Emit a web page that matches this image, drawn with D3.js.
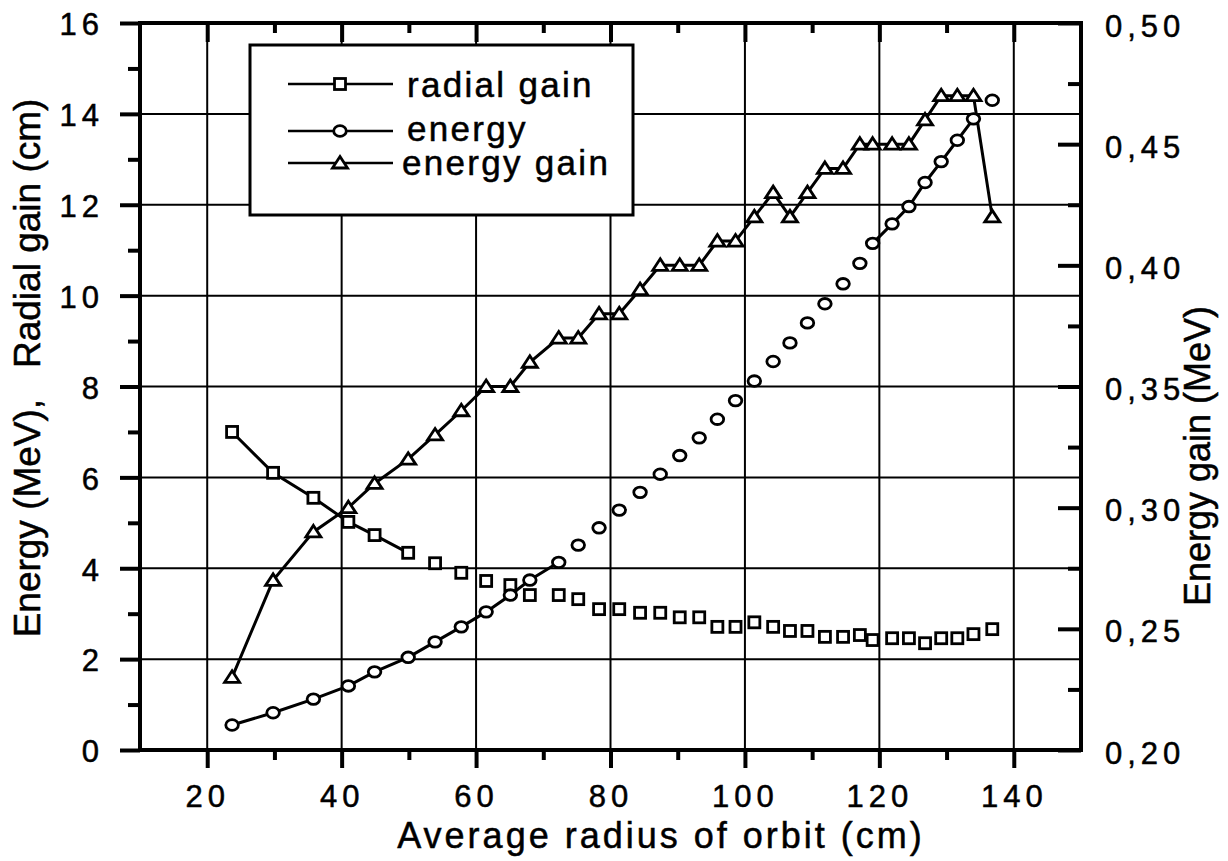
<!DOCTYPE html>
<html><head><meta charset="utf-8">
<script src="https://cdn.jsdelivr.net/npm/d3@7"></script>
<style>
html,body{margin:0;padding:0;background:#fff;}
svg{display:block;font-family:"Liberation Sans",Arial,Helvetica,sans-serif;}
svg text{stroke:#000;stroke-width:0.5px;}
</style></head>
<body>
<svg id="chart" width="1228" height="861"></svg>
<script>
// ---- data ----
const radius = [23.7, 29.8, 35.8, 41.0, 44.9, 49.9, 53.9, 57.8, 61.5, 65.1, 68.0, 72.3, 75.2, 78.3, 81.3, 84.4, 87.4, 90.3, 93.2, 95.9, 98.6, 101.4, 104.2, 106.7, 109.3, 111.9, 114.6, 117.1, 119.0, 121.9, 124.4, 126.8, 129.2, 131.6, 134.0, 136.8];
const radialGain = [7.0, 6.1, 5.55, 5.02, 4.73, 4.34, 4.11, 3.90, 3.72, 3.63, 3.41, 3.41, 3.32, 3.10, 3.10, 3.02, 3.02, 2.92, 2.92, 2.71, 2.71, 2.81, 2.71, 2.62, 2.62, 2.49, 2.49, 2.53, 2.42, 2.46, 2.46, 2.35, 2.46, 2.46, 2.55, 2.66];
const energy = [0.55, 0.82, 1.12, 1.41, 1.72, 2.04, 2.38, 2.71, 3.04, 3.41, 3.74, 4.13, 4.51, 4.89, 5.28, 5.67, 6.07, 6.48, 6.87, 7.28, 7.69, 8.12, 8.55, 8.96, 9.40, 9.82, 10.26, 10.71, 11.15, 11.58, 11.96, 12.49, 12.95, 13.42, 13.89, 14.30];
const energyGain = [0.23, 0.27, 0.29, 0.30, 0.31, 0.32, 0.33, 0.34, 0.35, 0.35, 0.36, 0.37, 0.37, 0.38, 0.38, 0.39, 0.40, 0.40, 0.40, 0.41, 0.41, 0.42, 0.43, 0.42, 0.43, 0.44, 0.44, 0.45, 0.45, 0.45, 0.45, 0.46, 0.47, 0.47, 0.47, 0.42];
// index ranges joined by visible line segments in the scanned figure
const radialGainLinked = [[0, 5]];
const energyLinked = [[0, 11], [28, 34]];
const energyGainLinked = [[0, 35]];
const xTicks = [20, 40, 60, 80, 100, 120, 140];
const xMinor = [30, 50, 70, 90, 110, 130];
const yTicks = [0, 2, 4, 6, 8, 10, 12, 14, 16];
const yMinor = [1, 3, 5, 7, 9, 11, 13, 15];
const y2Ticks = [0.20, 0.25, 0.30, 0.35, 0.40, 0.45, 0.50];
const y2Minor = [0.225, 0.275, 0.325, 0.375, 0.425, 0.475];
const legendLabels = ["radial gain", "energy", "energy gain"];
const xTitle = "Average radius of orbit (cm)";
const yTitle = "Energy (MeV),\u00a0\u00a0 Radial gain (cm)";
const y2Title = "Energy gain (MeV)";

// ---- layout ----
const L = 140, R = 1081, T = 23, B = 750;
const svg = d3.select("#chart");
const x = d3.scaleLinear().domain([10, 150]).range([L, R]);
const y = d3.scaleLinear().domain([0, 16]).range([B, T]);
const y2 = d3.scaleLinear().domain([0.2, 0.5]).range([B, T]);

// grid
const grid = svg.append("g").attr("stroke", "#000").attr("stroke-width", 2);
grid.selectAll(".vg").data(xTicks).join("line")
  .attr("x1", d => x(d)).attr("x2", d => x(d)).attr("y1", T).attr("y2", B);
grid.selectAll(".hg").data(yTicks.filter(d => d > 0 && d < 16)).join("line")
  .attr("x1", L).attr("x2", R).attr("y1", d => y(d)).attr("y2", d => y(d));

// axes with d3 axis generators
const tickFont = g => g.selectAll("text").attr("font-size", 31).attr("letter-spacing", "5px")
  .attr("fill", "#000").attr("font-family", "'Liberation Sans',Arial,sans-serif");
const styleAxis = g => { g.select(".domain").remove(); g.selectAll("line").attr("stroke", "#000").attr("stroke-width", 4); };

// bottom
const gB = svg.append("g").attr("transform", `translate(0,${B})`)
  .call(d3.axisBottom(x).tickValues(xTicks).tickSize(18).tickPadding(30).tickFormat(d3.format("d")));
styleAxis(gB); tickFont(gB);
gB.selectAll("text").attr("dy", "0").attr("y", 57);
svg.append("g").attr("transform", `translate(0,${B})`)
  .call(d3.axisBottom(x).tickValues(xMinor).tickSize(10).tickFormat(""))
  .call(styleAxis);
// top (inward)
svg.append("g").attr("transform", `translate(0,${T})`)
  .call(d3.axisTop(x).tickValues(xTicks).tickSize(-19).tickFormat("")).call(styleAxis);
svg.append("g").attr("transform", `translate(0,${T})`)
  .call(d3.axisTop(x).tickValues(xMinor).tickSize(-10).tickFormat("")).call(styleAxis);
// left (outward)
const gL = svg.append("g").attr("transform", `translate(${L},0)`)
  .call(d3.axisLeft(y).tickValues(yTicks).tickSize(20).tickPadding(16).tickFormat(d3.format("d")));
styleAxis(gL); tickFont(gL);
gL.selectAll("text").attr("dy", "0.38em");
svg.append("g").attr("transform", `translate(${L},0)`)
  .call(d3.axisLeft(y).tickValues(yMinor).tickSize(12).tickFormat("")).call(styleAxis);
// right (inward ticks, labels outside)
const commaFmt = d => d3.format(".2f")(d).replace(".", ",");
const gR = svg.append("g").attr("transform", `translate(${R},0)`)
  .call(d3.axisRight(y2).tickValues(y2Ticks).tickSize(-23).tickPadding(0).tickFormat(commaFmt));
styleAxis(gR); tickFont(gR);
gR.selectAll("text").attr("x", 24).attr("dy", "0.42em").attr("text-anchor", "start");
svg.append("g").attr("transform", `translate(${R},0)`)
  .call(d3.axisRight(y2).tickValues(y2Minor).tickSize(-13).tickFormat("")).call(styleAxis);

// frame
const frame = svg.append("g").attr("stroke", "#000").attr("stroke-width", 4).attr("stroke-linecap", "square");
frame.append("line").attr("x1", L).attr("x2", R).attr("y1", T).attr("y2", T);
frame.append("line").attr("x1", L).attr("x2", R).attr("y1", B).attr("y2", B);
frame.append("line").attr("x1", L).attr("x2", L).attr("y1", T).attr("y2", B);
frame.append("line").attr("x1", R).attr("x2", R).attr("y1", T).attr("y2", B);

// markers
function marker(g, type, cx, cy) {
  const s = g.append(type === "square" ? "rect" : type === "circle" ? "ellipse" : "path")
    .attr("fill", "#fff").attr("stroke", "#000").attr("stroke-width", 2.8);
  if (type === "square") s.attr("x", cx - 5.5).attr("y", cy - 5.5).attr("width", 11).attr("height", 11);
  else if (type === "circle") s.attr("cx", cx).attr("cy", cy).attr("rx", 6.3).attr("ry", 5.3);
  else s.attr("d", `M${cx},${cy - 6.5}L${cx + 7.5},${cy + 5}L${cx - 7.5},${cy + 5}Z`);
}

const series = [
  {vals: radialGain, sc: y, type: "square", linked: radialGainLinked},
  {vals: energy, sc: y, type: "circle", linked: energyLinked},
  {vals: energyGain, sc: y2, type: "triangle", linked: energyGainLinked}
];
const plot = svg.append("g");
series.forEach(s => {
  const pts = radius.map((r, i) => [r, s.vals[i]]);
  const line = d3.line().x(d => x(d[0])).y(d => s.sc(d[1]));
  s.linked.forEach(([a, b]) => {
    plot.append("path").datum(pts.slice(a, b + 1)).attr("d", line)
      .attr("fill", "none").attr("stroke", "#000").attr("stroke-width", 3);
  });
});
series.forEach(s => {
  const g = plot.append("g");
  radius.forEach((r, i) => marker(g, s.type, x(r), s.sc(s.vals[i])));
});

// legend
const lg = svg.append("g");
lg.append("rect").attr("x", 250).attr("y", 45).attr("width", 383).attr("height", 170)
  .attr("fill", "#fff").attr("stroke", "#000").attr("stroke-width", 3);
const legRows = [
  {y: 84, type: "square", tx: 407, ty: 97},
  {y: 131, type: "circle", tx: 407, ty: 141},
  {y: 163, type: "triangle", tx: 402, ty: 175}
];
legRows.forEach((r, i) => {
  lg.append("line").attr("x1", 288).attr("x2", 393).attr("y1", r.y).attr("y2", r.y)
    .attr("stroke", "#000").attr("stroke-width", 2.5);
  marker(lg, r.type, 340, r.y);
  lg.append("text").attr("x", r.tx).attr("y", r.ty).attr("font-size", 35)
    .attr("letter-spacing", "2.3px").text(legendLabels[i]);
});

// titles
svg.append("text").attr("x", 661).attr("y", 848).attr("text-anchor", "middle")
  .attr("font-size", 36).attr("letter-spacing", "3px").text(xTitle);
svg.append("text").attr("transform", "translate(40,368) rotate(-90)").attr("text-anchor", "middle")
  .attr("font-size", 37).text(yTitle);
svg.append("text").attr("transform", "translate(1210,456) rotate(-90)").attr("text-anchor", "middle")
  .attr("font-size", 36).text(y2Title);
</script>
</body></html>
